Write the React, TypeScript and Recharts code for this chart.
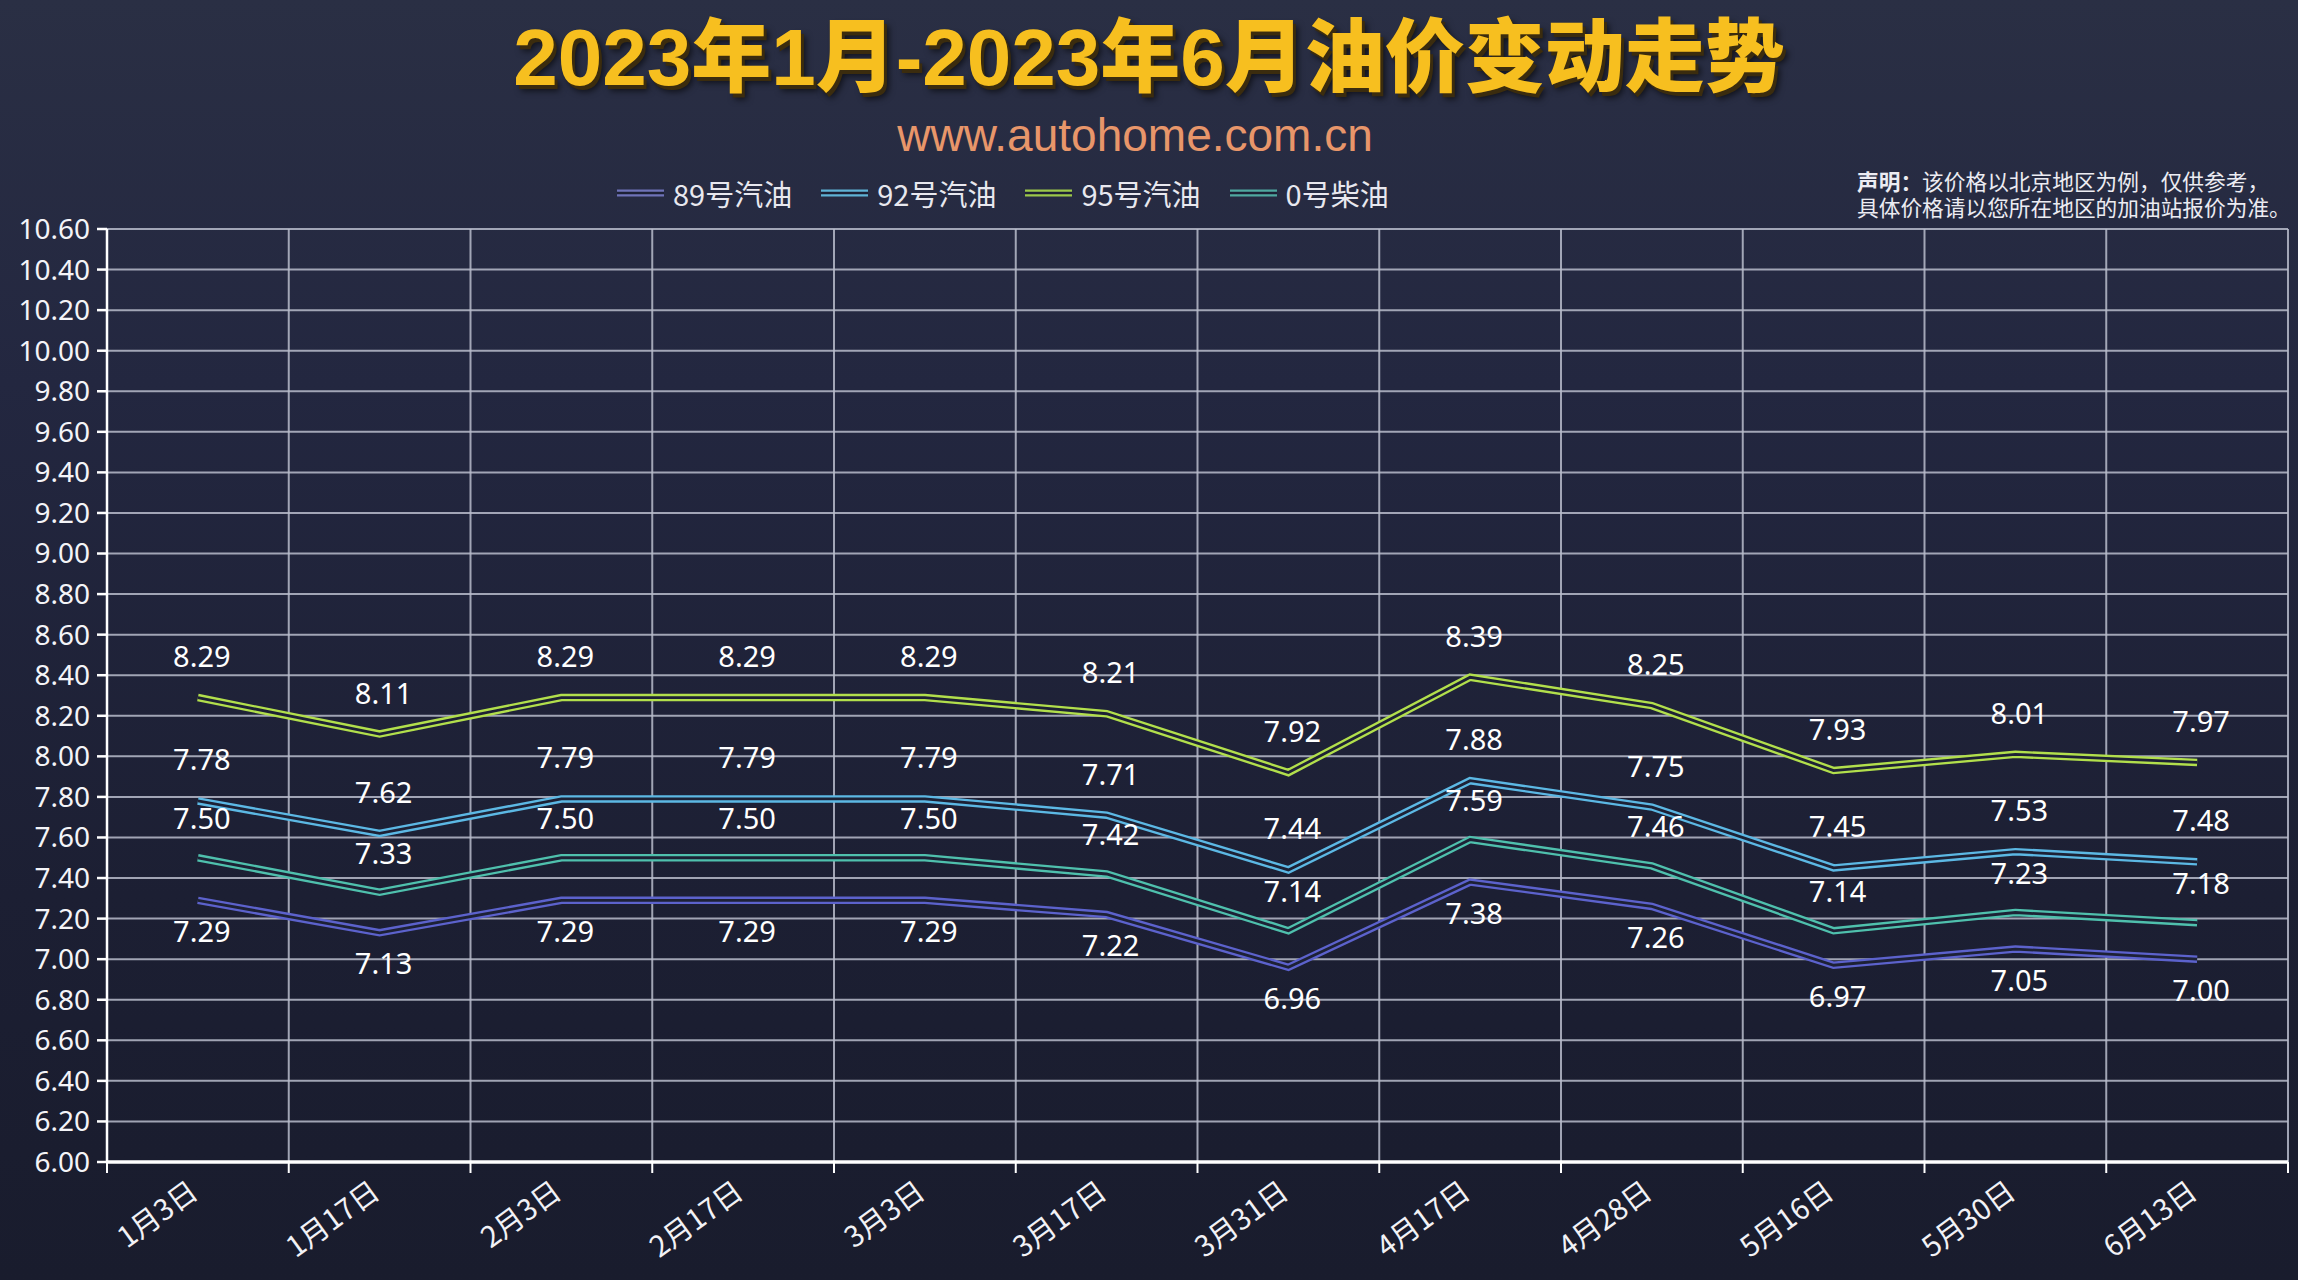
import React from 'react';
import { LineChart, Line, XAxis, YAxis, CartesianGrid, LabelList } from 'recharts';

const dates = ['1月3日', '1月17日', '2月3日', '2月17日', '3月3日', '3月17日', '3月31日', '4月17日', '4月28日', '5月16日', '5月30日', '6月13日'];
const gas89 = [7.29, 7.13, 7.29, 7.29, 7.29, 7.22, 6.96, 7.38, 7.26, 6.97, 7.05, 7.0];
const gas92 = [7.78, 7.62, 7.79, 7.79, 7.79, 7.71, 7.44, 7.88, 7.75, 7.45, 7.53, 7.48];
const gas95 = [8.29, 8.11, 8.29, 8.29, 8.29, 8.21, 7.92, 8.39, 8.25, 7.93, 8.01, 7.97];
const diesel0 = [7.5, 7.33, 7.5, 7.5, 7.5, 7.42, 7.14, 7.59, 7.46, 7.14, 7.23, 7.18];
const yTicks = [6.0, 6.2, 6.4, 6.6, 6.8, 7.0, 7.2, 7.4, 7.6, 7.8, 8.0, 8.2, 8.4, 8.6, 8.8, 9.0, 9.2, 9.4, 9.6, 9.8, 10.0, 10.2, 10.4, 10.6];
const seriesNames = ['89号汽油', '92号汽油', '95号汽油', '0号柴油'];

const titleText = '2023年1月-2023年6月油价变动走势';
const subtitleText = 'www.autohome.com.cn';
const noteBold = '声明：';
const noteLine1 = '该价格以北京地区为例，仅供参考，';
const noteLine2 = '具体价格请以您所在地区的加油站报价为准。';

const data = dates.map((d, i) => ({
  date: d,
  g89: gas89[i],
  g92: gas92[i],
  g95: gas95[i],
  d0: diesel0[i],
}));

const series = [
  { key: 'g89', name: seriesNames[0], color: '#5c62cc', legend: '#6f73b8', dy: 30 },
  { key: 'g92', name: seriesNames[1], color: '#5cb8e4', legend: '#5fb3d6', dy: -42 },
  { key: 'g95', name: seriesNames[2], color: '#b2df4c', legend: '#9cc84a', dy: -42 },
  { key: 'd0', name: seriesNames[3], color: '#4fc0ad', legend: '#4fa8a0', dy: -40 },
];

const GAP = '#1d2135';
const W = 2298;
const H = 1280;

const makeLabel = (dy: number) => (props: any) => {
  const { x, y, value } = props;
  if (x == null || y == null) return null;
  return (
    <text
      x={x + 4}
      y={y + dy}
      textAnchor="middle"
      dominantBaseline="central"
      fill="#ffffff"
      fontSize={29}
      fontFamily="'Noto Sans', sans-serif"
    >
      {Number(value).toFixed(2)}
    </text>
  );
};

const XTick = (props: any) => {
  const { x, y, payload, index, width, visibleTicksCount } = props;
  const band = width / visibleTicksCount;
  const left = x - band / 2;
  return (
    <g>
      <line x1={left} x2={left} y1={y} y2={y + 11} stroke="#ffffff" strokeWidth={2} />
      {index === visibleTicksCount - 1 && (
        <line x1={x + band / 2} x2={x + band / 2} y1={y} y2={y + 11} stroke="#ffffff" strokeWidth={2} />
      )}
      <text
        transform={`translate(${x + 2}, ${y + 34}) rotate(-36)`}
        textAnchor="end"
        fill="#f2f2f6"
        fontSize={29}
        fontFamily="'Noto Sans CJK SC', sans-serif"
      >
        {payload.value}
      </text>
    </g>
  );
};

export default function App() {
  return (
    <div
      style={{
        position: 'absolute',
        left: 0,
        top: 0,
        width: W,
        height: H,
        overflow: 'hidden',
        background: 'linear-gradient(180deg, #2a2f44 0%, #232740 30%, #1c1f33 70%, #191c2d 100%)',
        fontFamily: "'Noto Sans CJK SC', sans-serif",
      }}
    >
      <div
        style={{
          position: 'absolute',
          left: 0,
          top: 18,
          width: W,
          textAlign: 'center',
          fontSize: 80,
          lineHeight: 1,
          fontWeight: 900,
          color: '#f7bf1f',
          fontFamily: "'Liberation Sans', 'Noto Sans CJK SC', sans-serif",
          textShadow: '3px 4px 0 #3b2c0e, 5px 6px 6px rgba(0,0,0,0.6)',
          whiteSpace: 'nowrap',
        }}
      >
        {titleText}
      </div>
      <div
        style={{
          position: 'absolute',
          left: 0,
          top: 112,
          width: 2270,
          textAlign: 'center',
          fontSize: 46,
          lineHeight: 1,
          color: '#e8966a',
          fontFamily: "'Liberation Sans', sans-serif",
          whiteSpace: 'nowrap',
        }}
      >
        {subtitleText}
      </div>
      <div
        style={{
          position: 'absolute',
          left: 617,
          top: 175,
          height: 36,
          display: 'flex',
          alignItems: 'center',
        }}
      >
        {series.map((s) => (
          <div key={s.key} style={{ display: 'flex', alignItems: 'center', marginRight: 29 }}>
            <svg width={47} height={12}>
              <line x1={0} x2={47} y1={6} y2={6} stroke={s.legend} strokeWidth={7} />
              <line x1={0} x2={47} y1={6} y2={6} stroke={GAP} strokeWidth={2.5} />
            </svg>
            <span style={{ marginLeft: 9, fontSize: 29, lineHeight: 1, color: '#e8e8ef', whiteSpace: 'nowrap' }}>
              {s.name}
            </span>
          </div>
        ))}
      </div>
      <div
        style={{
          position: 'absolute',
          left: 1857,
          top: 170,
          fontSize: 21.7,
          lineHeight: '26px',
          color: '#ececf2',
          whiteSpace: 'nowrap',
          fontFamily: "'Liberation Sans', 'Noto Sans CJK SC', sans-serif",
        }}
      >
        <div>
          <span style={{ fontWeight: 700 }}>{noteBold}</span>
          {noteLine1}
        </div>
        <div>{noteLine2}</div>
      </div>
      <div style={{ position: 'absolute', left: 0, top: 0 }}>
        <LineChart width={W} height={H} data={data} margin={{ top: 229, right: 10, bottom: 18, left: 0 }}>
          <CartesianGrid
            stroke="#b9bccb"
            strokeOpacity={0.85}
            strokeWidth={2}
            verticalCoordinatesGenerator={({ offset }: any) =>
              dates.map((_, i) => offset.left + (offset.width * i) / dates.length).concat([offset.left + offset.width])
            }
          />
          <XAxis
            dataKey="date"
            scale="band"
            interval={0}
            height={100}
            tickLine={false}
            tickSize={0}
            tickMargin={0}
            axisLine={{ stroke: '#ffffff', strokeWidth: 3.5 }}
            tick={<XTick />}
          />
          <YAxis
            width={107}
            domain={[6, 10.6]}
            ticks={yTicks}
            interval={0}
            allowDataOverflow
            tickFormatter={(v: number) => v.toFixed(2)}
            tickSize={10}
            tickMargin={7}
            tickLine={{ stroke: '#ffffff', strokeWidth: 2.5 }}
            axisLine={{ stroke: '#ffffff', strokeWidth: 2.5 }}
            tick={{ fill: '#f4f4f8', fontSize: 28, fontFamily: "'Noto Sans', sans-serif" }}
          />
          {series.map((s) => (
            <Line
              key={s.key + '-outer'}
              dataKey={s.key}
              name={s.name}
              stroke={s.color}
              strokeWidth={7.5}
              strokeLinejoin="miter"
              dot={false}
              activeDot={false}
              isAnimationActive={false}
              type="linear"
            />
          ))}
          {series.map((s) => (
            <Line
              key={s.key + '-inner'}
              dataKey={s.key}
              legendType="none"
              stroke={GAP}
              strokeWidth={2.8}
              strokeLinejoin="miter"
              dot={false}
              activeDot={false}
              isAnimationActive={false}
              type="linear"
            >
              <LabelList dataKey={s.key} content={makeLabel(s.dy)} />
            </Line>
          ))}
        </LineChart>
      </div>
    </div>
  );
}
